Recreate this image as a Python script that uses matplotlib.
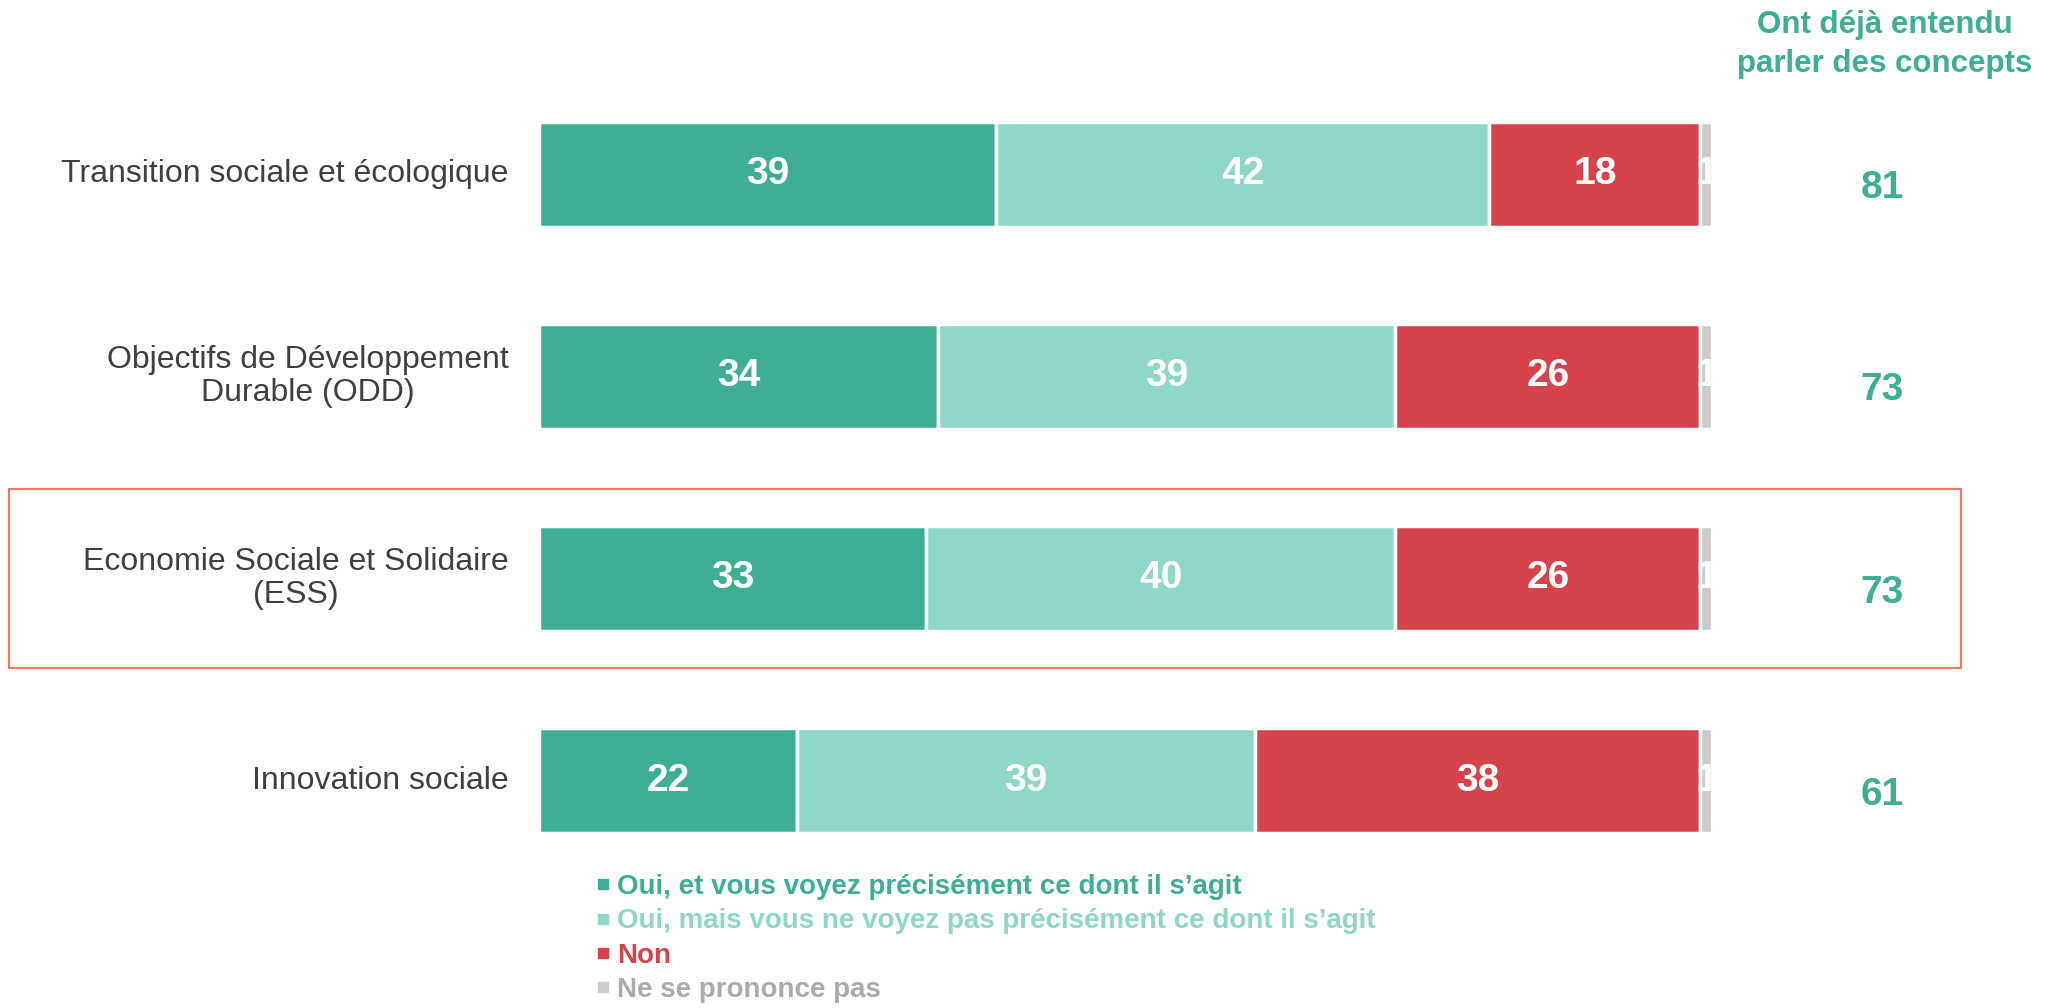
import matplotlib
matplotlib.use("Agg")
import matplotlib.pyplot as plt
from matplotlib.lines import Line2D
from matplotlib.patches import Rectangle

plt.rcParams["font.family"] = ["Liberation Sans", "DejaVu Sans"]

# Data
categories = [
    "Transition sociale et écologique",
    "Objectifs de Développement\nDurable (ODD)",
    "Economie Sociale et Solidaire\n(ESS)",
    "Innovation sociale",
]
oui_precis = [39, 34, 33, 22]
oui_pas_precis = [42, 39, 40, 39]
non = [18, 26, 26, 38]
nsp = [1, 1, 1, 1]
total_entendu = [81, 73, 73, 61]

series_labels = [
    "Oui, et vous voyez précisément ce dont il s’agit",
    "Oui, mais vous ne voyez pas précisément ce dont il s’agit",
    "Non",
    "Ne se prononce pas",
]
colors = ["#3EAE96", "#8FD7C8", "#D7434A", "#CBCBCB"]
legend_text_colors = ["#3EAE96", "#8FD7C8", "#D7434A", "#ABABAB"]
header = "Ont déjà entendu\nparler des concepts"

fig = plt.figure(figsize=(20.67, 10.08), dpi=100)
# axes spans x data 0-100 from px 539 to 1712
ax = fig.add_axes([539 / 2067, 0, 1173 / 2067, 1])
ax.set_xlim(0, 100)
ax.set_ylim(4.125, -0.861)
ax.axis("off")

ypos = list(range(len(categories)))
lefts = [0] * len(categories)
all_series = [oui_precis, oui_pas_precis, non, nsp]
for vals, col in zip(all_series, colors):
    ax.barh(ypos, vals, left=lefts, height=0.52, color=col,
            edgecolor="white", linewidth=2.5)
    for y, v, l in zip(ypos, vals, lefts):
        ax.text(l + v / 2, y, str(v), ha="center", va="center",
                color="white", fontsize=28, fontweight="bold")
    lefts = [l + v for l, v in zip(lefts, vals)]

# category labels
for y, cat in zip(ypos, categories):
    ax.text(-2.6, y, cat, ha="right", va="center", multialignment="center",
            fontsize=23, color="#404040", linespacing=1.15)

# right column
for y, v in zip(ypos, total_entendu):
    ax.text(114.5, y + 0.07, str(v), ha="center", va="center",
            fontsize=28, fontweight="bold", color="#3EAE96")
ax.text(114.7, -0.64, header, ha="center", va="center", fontsize=22.5,
        fontweight="bold", color="#3EAE96", linespacing=1.4)

# highlight box around ESS row
ax.add_patch(Rectangle((-45.2, 2 - 0.443), 166.4, 0.886, fill=False,
                       edgecolor="#F07A5E", linewidth=1.5, clip_on=False))

# legend
handles = [Line2D([], [], marker="s", linestyle="none", markersize=6.5,
                  markerfacecolor=c, markeredgecolor=c) for c in colors]
leg = fig.legend(handles, series_labels, loc="upper left",
                 bbox_to_anchor=(582 / 2067, 1 - 860 / 1008), frameon=False,
                 prop={"size": 20, "weight": "bold"}, handlelength=0.5,
                 handletextpad=0.25, labelspacing=0.3, borderpad=0)
for txt, c in zip(leg.get_texts(), legend_text_colors):
    txt.set_color(c)

fig.savefig("out.png", dpi=100)
